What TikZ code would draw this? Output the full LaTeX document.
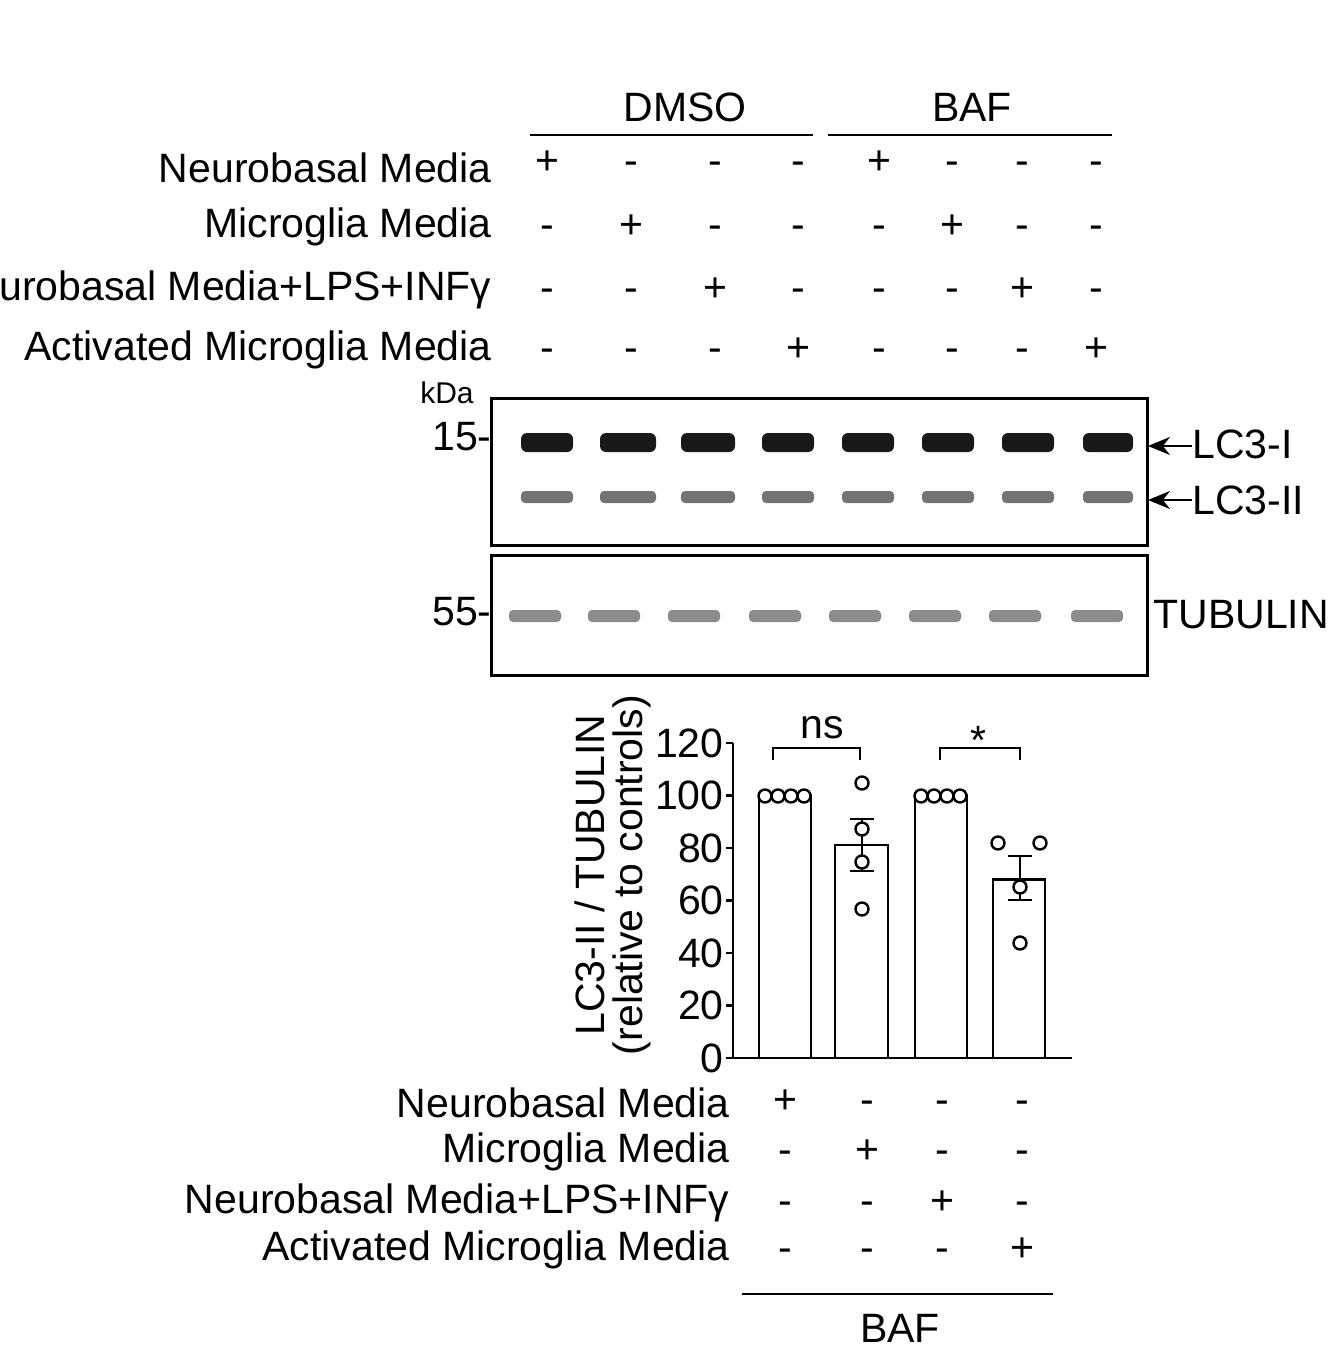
\documentclass[tikz,border=0pt]{standalone}
\usepackage{fontspec}
\setmainfont{Liberation Sans}
\usetikzlibrary{arrows.meta}
\begin{document}
\begin{tikzpicture}[x=0.5pt,y=-0.5pt,
  txt/.style={inner sep=0pt,font=\fontsize{20.5pt}{22pt}\selectfont},
  sgn/.style={inner sep=0pt,font=\fontsize{20.5pt}{22pt}\selectfont,execute at begin node=\vphantom{+}},
  sm/.style={inner sep=0pt,font=\fontsize{15pt}{17pt}\selectfont},
  bandA/.style={fill=black!90,rounded corners=3pt},
  bandB/.style={fill=black!55,rounded corners=2pt},
  bandT/.style={fill=black!45,rounded corners=2pt},
  bar/.style={draw,line width=1.4pt,fill=white},
  dot/.style={draw,line width=1.2pt,fill=white,circle,minimum size=6.5pt,inner sep=0pt},
  ln/.style={line width=1.3pt}]
\useasboundingbox (0,0) rectangle (1342,1360);
% header
\node[txt] (dmso) at (685,107) {DMSO};
\node[txt] (baf1) at (972,107) {BAF};
\draw[ln] (530,135) -- (813,135);
\draw[ln] (828,135) -- (1112,135);
% row labels
\foreach \y/\t in {168/Neurobasal Media,227/Microglia Media,290/Neurobasal Media+LPS+INFγ,350/Activated Microglia Media}
  \node[txt,anchor=east] at (492,\y) {\t};
\foreach \r/\y in {1/163,2/227,3/290,4/350}{
  \foreach \c/\x in {1/547,2/631,3/715,4/798,5/879,6/952,7/1022,8/1096}{
    \pgfmathtruncatemacro\m{mod(\c-1,4)+1}
    \ifnum\m=\r \node[sgn] at (\x,\y) {+};\else \node[sgn] at (\x,\y) {-};\fi
  }}
% blot
\node[sm] (kda) at (447,393) {kDa};
\node[txt,anchor=east] (m15) at (492,437) {15-};
\node[txt,anchor=east] (m55) at (492,612) {55-};
\draw[line width=1.5pt] (491,398) rectangle (1147,545);
\draw[line width=1.5pt] (491,555) rectangle (1147,675);
\foreach \x/\w in {547/52,628/56,708/54,788/52,868/52,948/52,1028/52,1108/50}{
  \fill[bandA] (\x-\w/2,433) rectangle (\x+\w/2,452);
  \fill[bandB] (\x-\w/2,491) rectangle (\x+\w/2,503);
}
\foreach \x in {535,614,694,775,855,935,1015,1097}
  \fill[bandT] (\x-26,610) rectangle (\x+26,622);
\coordinate (a1) at (1148,446);
\coordinate (a2) at (1148,500);
\node[txt,anchor=west] (lc1) at (1192,444) {LC3-I};
\node[txt,anchor=west] (lc2) at (1192,500) {LC3-II};
\draw[ln,-{Stealth[length=11pt,width=9pt]}] (lc1.west|-a1) -- (a1);
\draw[ln,-{Stealth[length=11pt,width=9pt]}] (lc2.west|-a2) -- (a2);
\node[txt,anchor=west] (tub) at (1153,615) {TUBULIN};
% chart
\draw[ln] (733,743) -- (733,1058) -- (1072,1058);
\foreach \v in {0,20,...,120}{
  \draw[ln] (726,{1058-2.625*\v}) -- (733,{1058-2.625*\v});
  \node[txt,anchor=east] at (724,{1058-2.625*\v}) {\v};
}
\node[txt,rotate=90] at (590,875) {LC3-II / TUBULIN};
\node[txt,rotate=90] at (632,875) {(relative to controls)};
\draw[bar] (759,1058) rectangle (811,795.5);
\draw[bar] (835,1058) rectangle (888,845);
\draw[bar] (915,1058) rectangle (967,795.5);
\draw[bar] (993,1058) rectangle (1045,879.5);
\draw[ln] (862,819) -- (862,871) (850,819) -- (874,819) (850,871)--(874,871);
\draw[ln] (1020,856) -- (1020,900) (1008,856) -- (1032,856) (1008,900)--(1032,900);
\foreach \x in {765,778,791,804,921,934,947,960} \node[dot] at (\x,796) {};
\foreach \p in {(862,783),(862,829),(862,862),(862,909),(998,843),(1040,843),(1020,887),(1020,943)} \node[dot] at \p {};
\draw[ln] (773,760) -- (773,748) -- (860,748) -- (860,760);
\node[txt] at (822,728) {ns};
\draw[ln] (940,760) -- (940,748) -- (1020,748) -- (1020,760);
\node[txt] at (978,740) {*};
% bottom table
\foreach \y/\t in {1103/Neurobasal Media,1152/Microglia Media,1203/Neurobasal Media+LPS+INFγ,1250/Activated Microglia Media}
  \node[txt,anchor=east] at (730,\y) {\t};
\foreach \r/\y in {1/1102,2/1152,3/1203,4/1250}{
  \foreach \c/\x in {1/785,2/867,3/942,4/1022}{
    \ifnum\c=\r \node[sgn] at (\x,\y) {+};\else \node[sgn] at (\x,\y) {-};\fi
  }}
\draw[ln] (742,1294) -- (1053,1294);
\node[txt] (baf2) at (900,1328) {BAF};
\end{tikzpicture}
\end{document}
